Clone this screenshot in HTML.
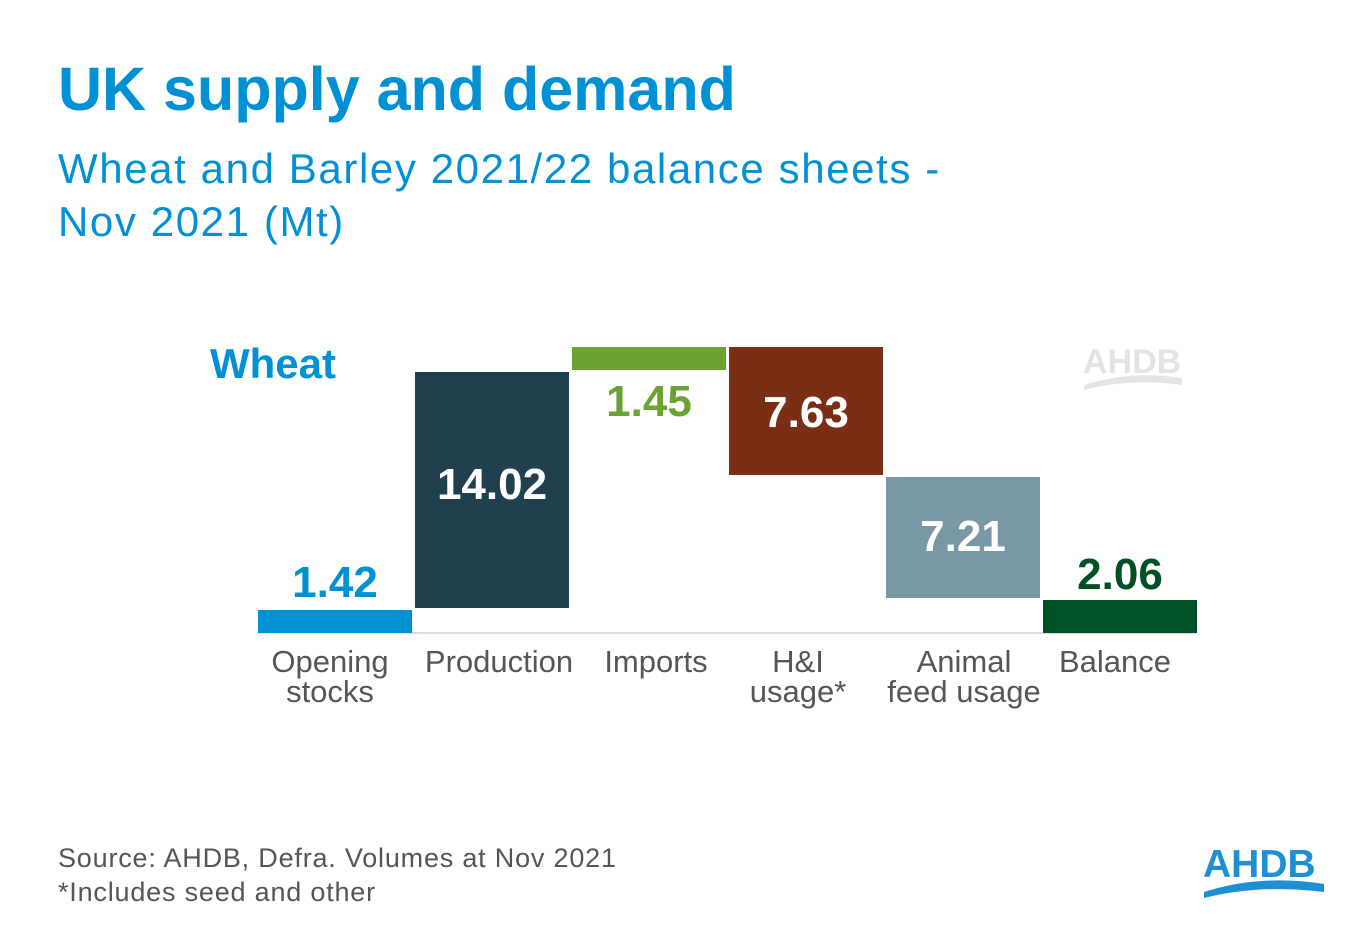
<!DOCTYPE html>
<html><head><meta charset="utf-8"><style>
body{margin:0;width:1370px;height:930px;background:#fff;position:relative;overflow:hidden;font-family:"Liberation Sans",sans-serif}
.a{position:absolute}
.t1{left:58px;top:54px;font-size:61px;font-weight:bold;color:#0090d4}
.t2{left:58px;top:142px;font-size:42px;color:#0090d4;line-height:53px;letter-spacing:1.6px}
.bar{position:absolute}
.v{position:absolute;font-weight:bold;font-size:44px;text-align:center;width:156px}
.lab{position:absolute;font-size:31px;color:#555;text-align:center;width:180px;line-height:30px}
.src{left:58px;font-size:27px;color:#555;letter-spacing:0.8px}
</style></head><body>
<div class="a t1">UK supply and demand</div>
<div class="a t2">Wheat and Barley 2021/22 balance sheets -<br>Nov 2021 (Mt)</div>
<div class="a" style="left:210px;top:340px;font-size:42px;font-weight:bold;color:#0090d4">Wheat</div>

<div class="a" style="left:257px;top:632px;width:940px;height:2px;background:#ddd"></div>
<div class="bar" style="left:258px;top:610px;width:154px;height:23px;background:#0090d4"></div>
<div class="v" style="left:257px;top:558px;color:#0090d4">1.42</div>
<div class="bar" style="left:415px;top:372px;width:154px;height:236px;background:#20404f"></div>
<div class="v" style="left:414px;top:460px;color:#fff">14.02</div>
<div class="bar" style="left:572px;top:347px;width:154px;height:23px;background:#6aa331"></div>
<div class="v" style="left:571px;top:377px;color:#6aa331">1.45</div>
<div class="bar" style="left:729px;top:347px;width:154px;height:128px;background:#7a2f14"></div>
<div class="v" style="left:728px;top:388px;color:#fff">7.63</div>
<div class="bar" style="left:886px;top:477px;width:154px;height:121px;background:#7a97a4"></div>
<div class="v" style="left:885px;top:512px;color:#fff">7.21</div>
<div class="bar" style="left:1043px;top:600px;width:154px;height:33px;background:#005025"></div>
<div class="v" style="left:1042px;top:550px;color:#005025">2.06</div>

<div class="lab" style="left:240px;top:647px">Opening<br>stocks</div>
<div class="lab" style="left:409px;top:647px">Production</div>
<div class="lab" style="left:566px;top:647px">Imports</div>
<div class="lab" style="left:708px;top:647px">H&amp;I<br>usage*</div>
<div class="lab" style="left:874px;top:647px">Animal<br>feed usage</div>
<div class="lab" style="left:1025px;top:647px">Balance</div>

<div class="a src" style="top:843px">Source: AHDB, Defra. Volumes at Nov 2021</div>
<div class="a src" style="top:877px">*Includes seed and other</div>

<svg class="a" style="left:1080px;top:340px" width="110" height="55">
<text x="3" y="33" font-family="Liberation Sans" font-weight="bold" font-size="34" fill="#e3e3e3">AHDB</text>
<path d="M4 45 Q50 30 102 38 L102 45 Q50 38 4 50Z" fill="#e3e3e3"/></svg>
<svg class="a" style="left:1200px;top:840px" width="130" height="65">
<text x="3" y="37" font-family="Liberation Sans" font-weight="bold" font-size="39" fill="#1e8fd2">AHDB</text>
<path d="M4 52 Q60 34 124 44 L124 52 Q60 44 4 58Z" fill="#1e8fd2"/></svg>
</body></html>
